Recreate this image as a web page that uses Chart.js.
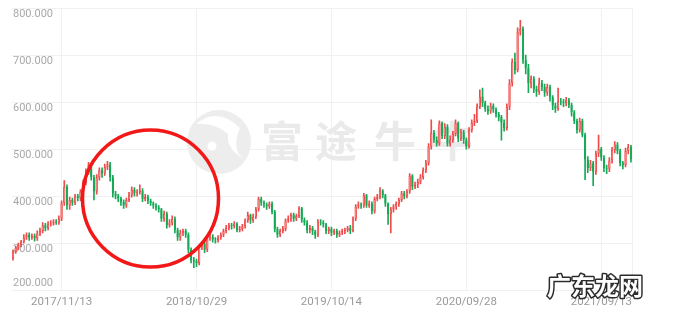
<!DOCTYPE html>
<html>
<head>
<meta charset="utf-8">
<script src="https://cdn.jsdelivr.net/npm/chart.js@4.4.0/dist/chart.umd.min.js"></script>
<style>
  html, body { margin: 0; padding: 0; background: #fff; }
  #wrap { width: 680px; height: 314px; }
</style>
</head>
<body>
<div id="wrap"><canvas id="kline" width="680" height="314"></canvas></div>
<script>
// weekly K line, first week 2017/07/10
const firstWeek = Date.UTC(2017, 6, 10);
const weekCount = 230;
const firstOpen = 268;

const tickLabels = ['2017/11/13', '2018/10/29', '2019/10/14', '2020/09/28', '2021/09/13'];
const yTicks = [200, 300, 400, 500, 600, 700, 800];

const closes = [
  282, 290, 296, 303, 312, 318, 312, 316, 310, 320,
  326, 338, 332, 340, 342, 346, 344, 352, 385, 420,
  380, 392, 386, 400, 396, 410, 428, 450, 466, 440,
  410, 440, 455, 448, 462, 468, 440, 405, 400, 395,
  388, 380, 392, 402, 414, 406, 408, 412, 394, 398,
  390, 385, 380, 376, 372, 352, 362, 338, 344, 352,
  328, 312, 322, 326, 318, 286, 264, 262, 258, 292,
  298, 286, 312, 314, 308, 306, 312, 318, 326, 332,
  338, 336, 342, 328, 330, 336, 348, 360, 348, 356,
  372, 394, 386, 382, 378, 384, 366, 330, 318, 326,
  330, 348, 352, 360, 352, 358, 374, 350, 344, 328,
  332, 325, 318, 346, 344, 340, 326, 330, 322, 326,
  318, 322, 326, 328, 332, 326, 352, 378, 382, 380,
  402, 380, 384, 368, 394, 398, 412, 402, 384, 362,
  372, 378, 384, 392, 406, 400, 410, 444, 420, 424,
  430, 440, 455, 470, 505, 535, 520, 512, 555, 528,
  548, 512, 520, 532, 556, 522, 536, 520, 506, 540,
  556, 560, 590, 612, 598, 586, 580, 592, 584, 574,
  568, 556, 545, 590, 640, 685, 668, 750, 756, 690,
  672, 640, 650, 628, 622, 640, 632, 620, 632, 610,
  592, 586, 602, 600, 598, 604, 594, 578, 560, 540,
  560, 530, 478, 460, 470, 452, 490, 500, 482, 460,
  458, 476, 498, 510, 496, 470, 466, 496, 505, 478
];

const highs = [
  286, 294, 300, 306, 318, 322, 322, 320, 320, 326,
  332, 344, 342, 346, 348, 350, 350, 358, 390, 433,
  424, 398, 396, 404, 404, 414, 434, 458, 472, 470,
  444, 446, 460, 460, 468, 474, 472, 444, 410, 404,
  398, 392, 396, 408, 420, 418, 414, 424, 416, 404,
  402, 394, 388, 384, 380, 374, 368, 366, 350, 358,
  356, 332, 328, 330, 330, 322, 290, 270, 266, 296,
  304, 302, 316, 320, 318, 312, 316, 322, 330, 338,
  342, 342, 346, 344, 336, 340, 352, 366, 362, 362,
  376, 398, 398, 390, 386, 388, 388, 370, 334, 330,
  336, 352, 358, 364, 364, 362, 378, 376, 354, 348,
  338, 336, 328, 350, 350, 348, 342, 334, 334, 330,
  330, 326, 330, 332, 336, 338, 356, 382, 388, 386,
  406, 404, 390, 388, 398, 404, 418, 414, 404, 386,
  376, 382, 388, 396, 410, 410, 414, 448, 446, 430,
  436, 446, 460, 476, 512, 562, 540, 526, 560, 558,
  554, 552, 528, 538, 562, 558, 542, 540, 524, 546,
  562, 574, 596, 626, 630, 602, 592, 598, 596, 588,
  578, 572, 562, 596, 648, 692, 704, 758, 774, 760,
  700, 680, 656, 654, 634, 651, 646, 638, 638, 636,
  614, 598, 630, 608, 606, 610, 608, 598, 582, 564,
  566, 564, 534, 484, 476, 474, 496, 530, 504, 486,
  466, 482, 504, 516, 514, 500, 474, 502, 510, 508
];

const lows = [
  264, 278, 286, 292, 300, 308, 306, 308, 304, 306,
  316, 322, 326, 328, 336, 338, 340, 340, 348, 380,
  372, 372, 380, 382, 390, 390, 404, 424, 446, 434,
  392, 404, 434, 440, 444, 456, 432, 398, 394, 388,
  380, 374, 376, 388, 398, 400, 400, 404, 388, 390,
  384, 380, 374, 370, 366, 346, 346, 332, 334, 338,
  322, 306, 306, 316, 312, 280, 258, 248, 250, 254,
  286, 280, 282, 306, 302, 300, 302, 308, 314, 322,
  328, 330, 332, 324, 324, 326, 332, 344, 342, 344,
  352, 368, 380, 376, 372, 374, 362, 324, 312, 314,
  322, 326, 344, 346, 346, 348, 354, 344, 338, 322,
  322, 318, 310, 314, 338, 334, 320, 320, 316, 318,
  312, 314, 318, 320, 324, 320, 324, 348, 374, 374,
  376, 376, 376, 362, 364, 390, 394, 396, 378, 340,
  322, 366, 372, 378, 388, 394, 396, 406, 414, 416,
  418, 426, 436, 450, 466, 500, 514, 506, 508, 522,
  522, 506, 506, 514, 528, 516, 518, 512, 500, 502,
  536, 550, 556, 586, 590, 580, 574, 576, 578, 568,
  560, 519, 538, 540, 584, 634, 660, 664, 742, 682,
  660, 620, 630, 620, 612, 616, 624, 612, 614, 602,
  584, 578, 582, 594, 590, 592, 588, 570, 554, 534,
  536, 526, 435, 450, 454, 422, 446, 484, 476, 452,
  448, 452, 470, 492, 490, 464, 458, 462, 490, 472
];

const upColor = '#ee4b4b';
const downColor = '#16a957';
const gridColor = '#f1f1f1';

function weekLabel(i) {
  const d = new Date(firstWeek + i * 7 * 86400000);
  const mm = String(d.getUTCMonth() + 1).padStart(2, '0');
  const dd = String(d.getUTCDate()).padStart(2, '0');
  return d.getUTCFullYear() + '/' + mm + '/' + dd;
}

const weeks = [];
for (let i = 0; i < weekCount; i++) weeks.push(weekLabel(i));

// open = close of the week before
const opens = closes.map((c, i) => i === 0 ? firstOpen : closes[i - 1]);
const bodies = closes.map((c, i) => [opens[i], c]);
const wicks = closes.map((c, i) => [lows[i], highs[i]]);
const isUp = closes.map((c, i) => c >= opens[i]);

const candleColors = isUp.map(u => u ? upColor : downColor);
const bodyFill = isUp.map(u => u ? '#ffffff' : downColor);

// y labels sit under the gridline, inside the plot
const yLabelPlugin = {
  id: 'yLabels',
  beforeDatasetsDraw(chart) {
    const ctx = chart.ctx;
    const y = chart.scales.y;
    ctx.save();
    ctx.font = '11px Roboto';
    ctx.fillStyle = '#a9a9a9';
    ctx.textAlign = 'left';
    ctx.textBaseline = 'middle';
    yTicks.forEach(v => {
      const py = y.getPixelForValue(v);
      const shift = v === yTicks[0] ? -7 : 6;
      ctx.fillText(v.toFixed(3), 13, py + shift);
    });
    // right border
    ctx.strokeStyle = gridColor;
    ctx.lineWidth = 1;
    ctx.beginPath();
    ctx.moveTo(Math.round(chart.chartArea.right) + 0.5, chart.chartArea.top);
    ctx.lineTo(Math.round(chart.chartArea.right) + 0.5, chart.chartArea.bottom);
    ctx.stroke();
    ctx.restore();
  }
};

// faint 富途牛牛 logo behind the candles
const watermarkPlugin = {
  id: 'watermark',
  beforeDatasetsDraw(chart) {
    const ctx = chart.ctx;
    ctx.save();
    ctx.fillStyle = '#ededed';
    ctx.beginPath();
    ctx.arc(219, 142, 32, 0, Math.PI * 2);
    ctx.fill();
    ctx.fillStyle = '#ffffff';
    ctx.beginPath();
    ctx.moveTo(196, 124);
    ctx.quadraticCurveTo(218, 106, 240, 128);
    ctx.quadraticCurveTo(230, 152, 246, 160);
    ctx.quadraticCurveTo(226, 150, 228, 134);
    ctx.quadraticCurveTo(214, 122, 196, 124);
    ctx.fill();
    ctx.beginPath();
    ctx.arc(212, 146, 4.5, 0, Math.PI * 2);
    ctx.fill();
    ctx.fillStyle = '#eaeaea';
    ctx.font = 'bold 42px "Noto Sans CJK SC"';
    ctx.textAlign = 'center';
    ctx.textBaseline = 'middle';
    const chars = ['富', '途', '牛', '牛'];
    const xs = [282, 336, 395, 452];
    chars.forEach((ch, i) => ctx.fillText(ch, xs[i], 141));
    ctx.restore();
  }
};

// hand drawn red circle and corner stamp
const overlayPlugin = {
  id: 'overlay',
  afterDraw(chart) {
    const ctx = chart.ctx;
    ctx.save();
    ctx.strokeStyle = '#f21818';
    ctx.lineWidth = 3.5;
    ctx.beginPath();
    ctx.ellipse(150.5, 198.5, 68, 68.5, 0, 0, Math.PI * 2);
    ctx.stroke();

    ctx.font = 'bold 24px "Noto Sans CJK SC"';
    ctx.textAlign = 'left';
    ctx.textBaseline = 'middle';
    ctx.lineJoin = 'round';
    ctx.lineWidth = 3;
    ctx.strokeStyle = '#2b2b2b';
    ctx.strokeText('广东龙网', 547, 286);
    ctx.fillStyle = '#ffffff';
    ctx.fillText('广东龙网', 547, 286);
    ctx.restore();
  }
};

const ctx = document.getElementById('kline').getContext('2d');
const klineChart = new Chart(ctx, {
  type: 'bar',
  data: {
    labels: weeks,
    datasets: [
      {
        label: 'wick',
        data: wicks,
        backgroundColor: candleColors,
        barThickness: 1,
        grouped: false,
        order: 2
      },
      {
        label: 'body',
        data: bodies,
        backgroundColor: bodyFill,
        borderColor: candleColors,
        borderWidth: 1,
        borderSkipped: false,
        barPercentage: 0.85,
        categoryPercentage: 1,
        grouped: false,
        order: 1
      }
    ]
  },
  options: {
    responsive: false,
    devicePixelRatio: 1,
    animation: false,
    layout: { padding: { left: 11.65, right: 47.7, top: 8, bottom: 0 } },
    plugins: {
      legend: { display: false },
      tooltip: { enabled: false }
    },
    scales: {
      x: {
        grid: {
          offset: false,
          drawTicks: false,
          color: c => (c.tick && tickLabels.includes(weeks[c.index])) ? gridColor : 'rgba(0,0,0,0)'
        },
        border: { display: false },
        ticks: {
          autoSkip: false,
          maxRotation: 0,
          minRotation: 0,
          padding: 5,
          color: '#9a9a9a',
          font: { size: 11.5, family: 'Roboto' },
          callback: (v, i) => tickLabels.includes(weeks[i]) ? weeks[i] : ''
        }
      },
      y: {
        min: 200,
        max: 800,
        ticks: { display: false, stepSize: 100 },
        grid: { color: gridColor, drawTicks: false },
        border: { display: false }
      }
    }
  },
  plugins: [yLabelPlugin, watermarkPlugin, overlayPlugin]
});
</script>
</body>
</html>
